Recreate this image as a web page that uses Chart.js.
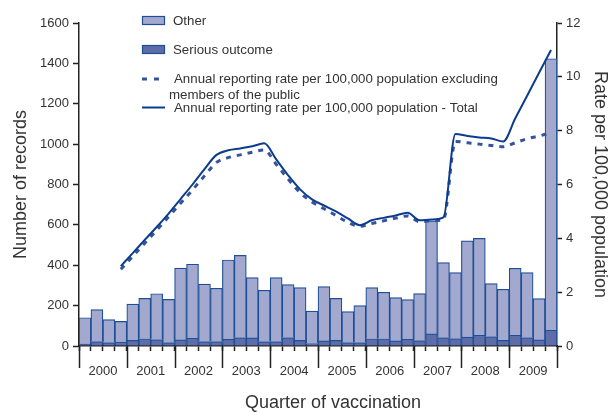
<!DOCTYPE html>
<html>
<head>
<meta charset="utf-8">
<script src="https://cdn.jsdelivr.net/npm/chart.js@4.4.1/dist/chart.umd.min.js"></script>
<style>
  body { margin: 0; background: #fff; }
</style>
</head>
<body>
<canvas id="chart" width="611" height="412"></canvas>
<script>
const quarters = [
  '2000 Q1', '2000 Q2', '2000 Q3', '2000 Q4', '2001 Q1', '2001 Q2', '2001 Q3', '2001 Q4',
  '2002 Q1', '2002 Q2', '2002 Q3', '2002 Q4', '2003 Q1', '2003 Q2', '2003 Q3', '2003 Q4',
  '2004 Q1', '2004 Q2', '2004 Q3', '2004 Q4', '2005 Q1', '2005 Q2', '2005 Q3', '2005 Q4',
  '2006 Q1', '2006 Q2', '2006 Q3', '2006 Q4', '2007 Q1', '2007 Q2', '2007 Q3', '2007 Q4',
  '2008 Q1', '2008 Q2', '2008 Q3', '2008 Q4', '2009 Q1', '2009 Q2', '2009 Q3', '2009 Q4'
];
const years = ['2000', '2001', '2002', '2003', '2004', '2005', '2006', '2007', '2008', '2009'];

// records per quarter
const seriousOutcome = [
  10, 22, 17, 20,  28, 36, 32, 17,  30, 38, 22, 22,  33, 42, 40, 22,  22, 42, 28, 12,
  25, 28, 17, 17,  36, 36, 25, 33,  27, 60, 42, 37,  44, 53, 47, 28,  53, 42, 30, 78
];
const other = [
  130, 158, 114, 102,  180, 200, 227, 214,  356, 367, 285, 264,  393, 407, 299, 254,
  317, 262, 261, 161,  269, 208, 153, 183,  253, 230, 215, 197,  233, 560, 371, 327,
  477, 480, 262, 253,  332, 322, 205, 1345
];

// annual reporting rate per 100,000 (rolling, from 2000 Q4)
const rateTotal = [
  null, null, null, 2.97,  3.45, 3.94, 4.42, 4.92,  5.46, 6.0, 6.57, 7.1,
  7.27, 7.34, 7.42, 7.53,  6.93, 6.34, 5.82, 5.45,  5.22, 5.0, 4.74, 4.49,
  4.67, 4.76, 4.85, 4.95,  4.67, 4.7, 4.78, 7.88,  7.8, 7.75, 7.71, 7.6,
  8.45, 9.3, 10.15, 11.0
];
const rateExclPublic = [
  null, null, null, 2.85,  3.33, 3.82, 4.3, 4.8,  5.3, 5.8, 6.32, 6.82,
  7.0, 7.1, 7.2, 7.28,  6.75, 6.2, 5.7, 5.35,  5.1, 4.85, 4.6, 4.45,
  4.55, 4.65, 4.75, 4.83,  4.62, 4.65, 4.7, 7.6,  7.55, 7.5, 7.45, 7.4,
  7.55, 7.7, 7.8, 7.93
];

const FONT = '"Liberation Sans", Arial, sans-serif';
const AXIS = '#222';
const TEXT = '#333';

const LIGHT = '#a3a8cf';
const DARK = '#5e6ca8';
const EDGE = '#1d4f98';
const LINE_SOLID = '#0c3d8d';
const LINE_DASH = '#35539d';

const decorations = {
  id: 'decorations',
  afterDraw(chart) {
    const ctx = chart.ctx;
    const x = chart.scales.x;
    const area = chart.chartArea;
    const half = x.width / quarters.length / 2;
    ctx.save();

    // year separators below the axis
    ctx.strokeStyle = AXIS;
    ctx.lineWidth = 1.5;
    for (let i = 0; i <= quarters.length; i += 4) {
      const px = Math.round(x.getPixelForValue(i) - half) + 0.5;
      ctx.beginPath();
      ctx.moveTo(px, area.bottom);
      ctx.lineTo(px, area.bottom + 22);
      ctx.stroke();
    }

    // x axis title
    ctx.fillStyle = TEXT;
    ctx.font = '18px ' + FONT;
    ctx.textAlign = 'center';
    ctx.textBaseline = 'middle';
    ctx.fillText('Quarter of vaccination', (area.left + area.right) / 2 + 15, 403);

    // legend
    const lx = 142, tx = 174;
    ctx.font = '13.3px ' + FONT;
    ctx.textAlign = 'left';
    ctx.lineWidth = 1.2;

    ctx.fillStyle = LIGHT; ctx.strokeStyle = EDGE;
    ctx.fillRect(lx, 16, 23, 9); ctx.strokeRect(lx + 0.5, 16.5, 22, 8);
    ctx.fillStyle = TEXT; ctx.fillText('Other', tx - 1, 21);

    ctx.fillStyle = DARK; ctx.strokeStyle = EDGE;
    ctx.fillRect(lx, 45, 23, 9); ctx.strokeRect(lx + 0.5, 45.5, 22, 8);
    ctx.fillStyle = TEXT; ctx.fillText('Serious outcome', tx - 1, 50);

    ctx.strokeStyle = LINE_DASH; ctx.lineWidth = 3; ctx.setLineDash([5, 7]);
    ctx.beginPath(); ctx.moveTo(lx, 79); ctx.lineTo(lx + 19, 79); ctx.stroke();
    ctx.setLineDash([]);
    ctx.fillStyle = TEXT;
    ctx.fillText('Annual reporting rate per 100,000 population excluding', tx, 79);
    ctx.fillText('members of the public', tx - 5, 95);

    ctx.strokeStyle = LINE_SOLID; ctx.lineWidth = 2;
    ctx.beginPath(); ctx.moveTo(lx, 107.5); ctx.lineTo(lx + 23, 107.5); ctx.stroke();
    ctx.fillText('Annual reporting rate per 100,000 population - Total', tx, 108);

    ctx.restore();
  }
};

new Chart(document.getElementById('chart').getContext('2d'), {
  type: 'bar',
  data: {
    labels: quarters,
    datasets: [
      {
        type: 'line',
        label: 'Annual reporting rate per 100,000 population - Total',
        data: rateTotal,
        yAxisID: 'yRate',
        borderColor: LINE_SOLID,
        borderWidth: 2,
        pointRadius: 0,
        cubicInterpolationMode: 'monotone',
        fill: false,
        order: 0
      },
      {
        type: 'line',
        label: 'Annual reporting rate per 100,000 population excluding members of the public',
        data: rateExclPublic,
        yAxisID: 'yRate',
        borderColor: LINE_DASH,
        borderWidth: 3,
        borderDash: [5, 6],
        pointRadius: 0,
        cubicInterpolationMode: 'monotone',
        fill: false,
        order: 0
      },
      {
        label: 'Serious outcome',
        data: seriousOutcome,
        yAxisID: 'y',
        backgroundColor: DARK,
        borderColor: EDGE,
        borderWidth: 1.2,
        categoryPercentage: 1,
        barPercentage: 1,
        order: 1
      },
      {
        label: 'Other',
        data: other,
        yAxisID: 'y',
        backgroundColor: LIGHT,
        borderColor: EDGE,
        borderWidth: 1.2,
        categoryPercentage: 1,
        barPercentage: 1,
        order: 1
      }
    ]
  },
  options: {
    responsive: false,
    animation: false,
    layout: { padding: { top: 23, left: 0, right: 0, bottom: 0 } },
    plugins: {
      legend: { display: false },
      tooltip: { enabled: false }
    },
    scales: {
      x: {
        stacked: true,
        offset: true,
        afterFit: s => { s.height = 66; },
        border: { display: true, color: AXIS, width: 1.5 },
        grid: {
          offset: true,
          drawOnChartArea: false,
          drawTicks: true,
          tickLength: 5,
          tickColor: AXIS,
          tickWidth: 1.5
        },
        ticks: {
          autoSkip: false,
          maxRotation: 0,
          labelOffset: 6,
          padding: 13,
          color: TEXT,
          font: { family: FONT, size: 13 },
          callback: (v, i) => (i % 4 === 1 ? years[Math.floor(i / 4)] : '')
        }
      },
      y: {
        stacked: true,
        position: 'left',
        min: 0,
        max: 1600,
        afterFit: s => { s.width = 79; },
        border: { display: true, color: AXIS, width: 1.5 },
        grid: { drawOnChartArea: false, tickLength: 6, tickColor: AXIS, tickWidth: 1.5 },
        ticks: {
          stepSize: 200,
          padding: 4,
          color: TEXT,
          font: { family: FONT, size: 13 },
          callback: v => String(v)
        },
        title: {
          display: true,
          text: 'Number of records',
          color: TEXT,
          font: { family: FONT, size: 18 },
          padding: { top: 10, bottom: 0 }
        }
      },
      yRate: {
        position: 'right',
        min: 0,
        max: 12,
        afterFit: s => { s.width = 54; },
        border: { display: true, color: AXIS, width: 1.5 },
        grid: { drawOnChartArea: false, tickLength: 5, tickColor: AXIS, tickWidth: 1.5 },
        ticks: { stepSize: 2, padding: 4, color: TEXT, font: { family: FONT, size: 13 } },
        title: {
          display: true,
          text: 'Rate per 100,000 population',
          color: TEXT,
          font: { family: FONT, size: 18 },
          padding: { top: 0, bottom: 0 }
        }
      }
    }
  },
  plugins: [decorations]
});
</script>
</body>
</html>
